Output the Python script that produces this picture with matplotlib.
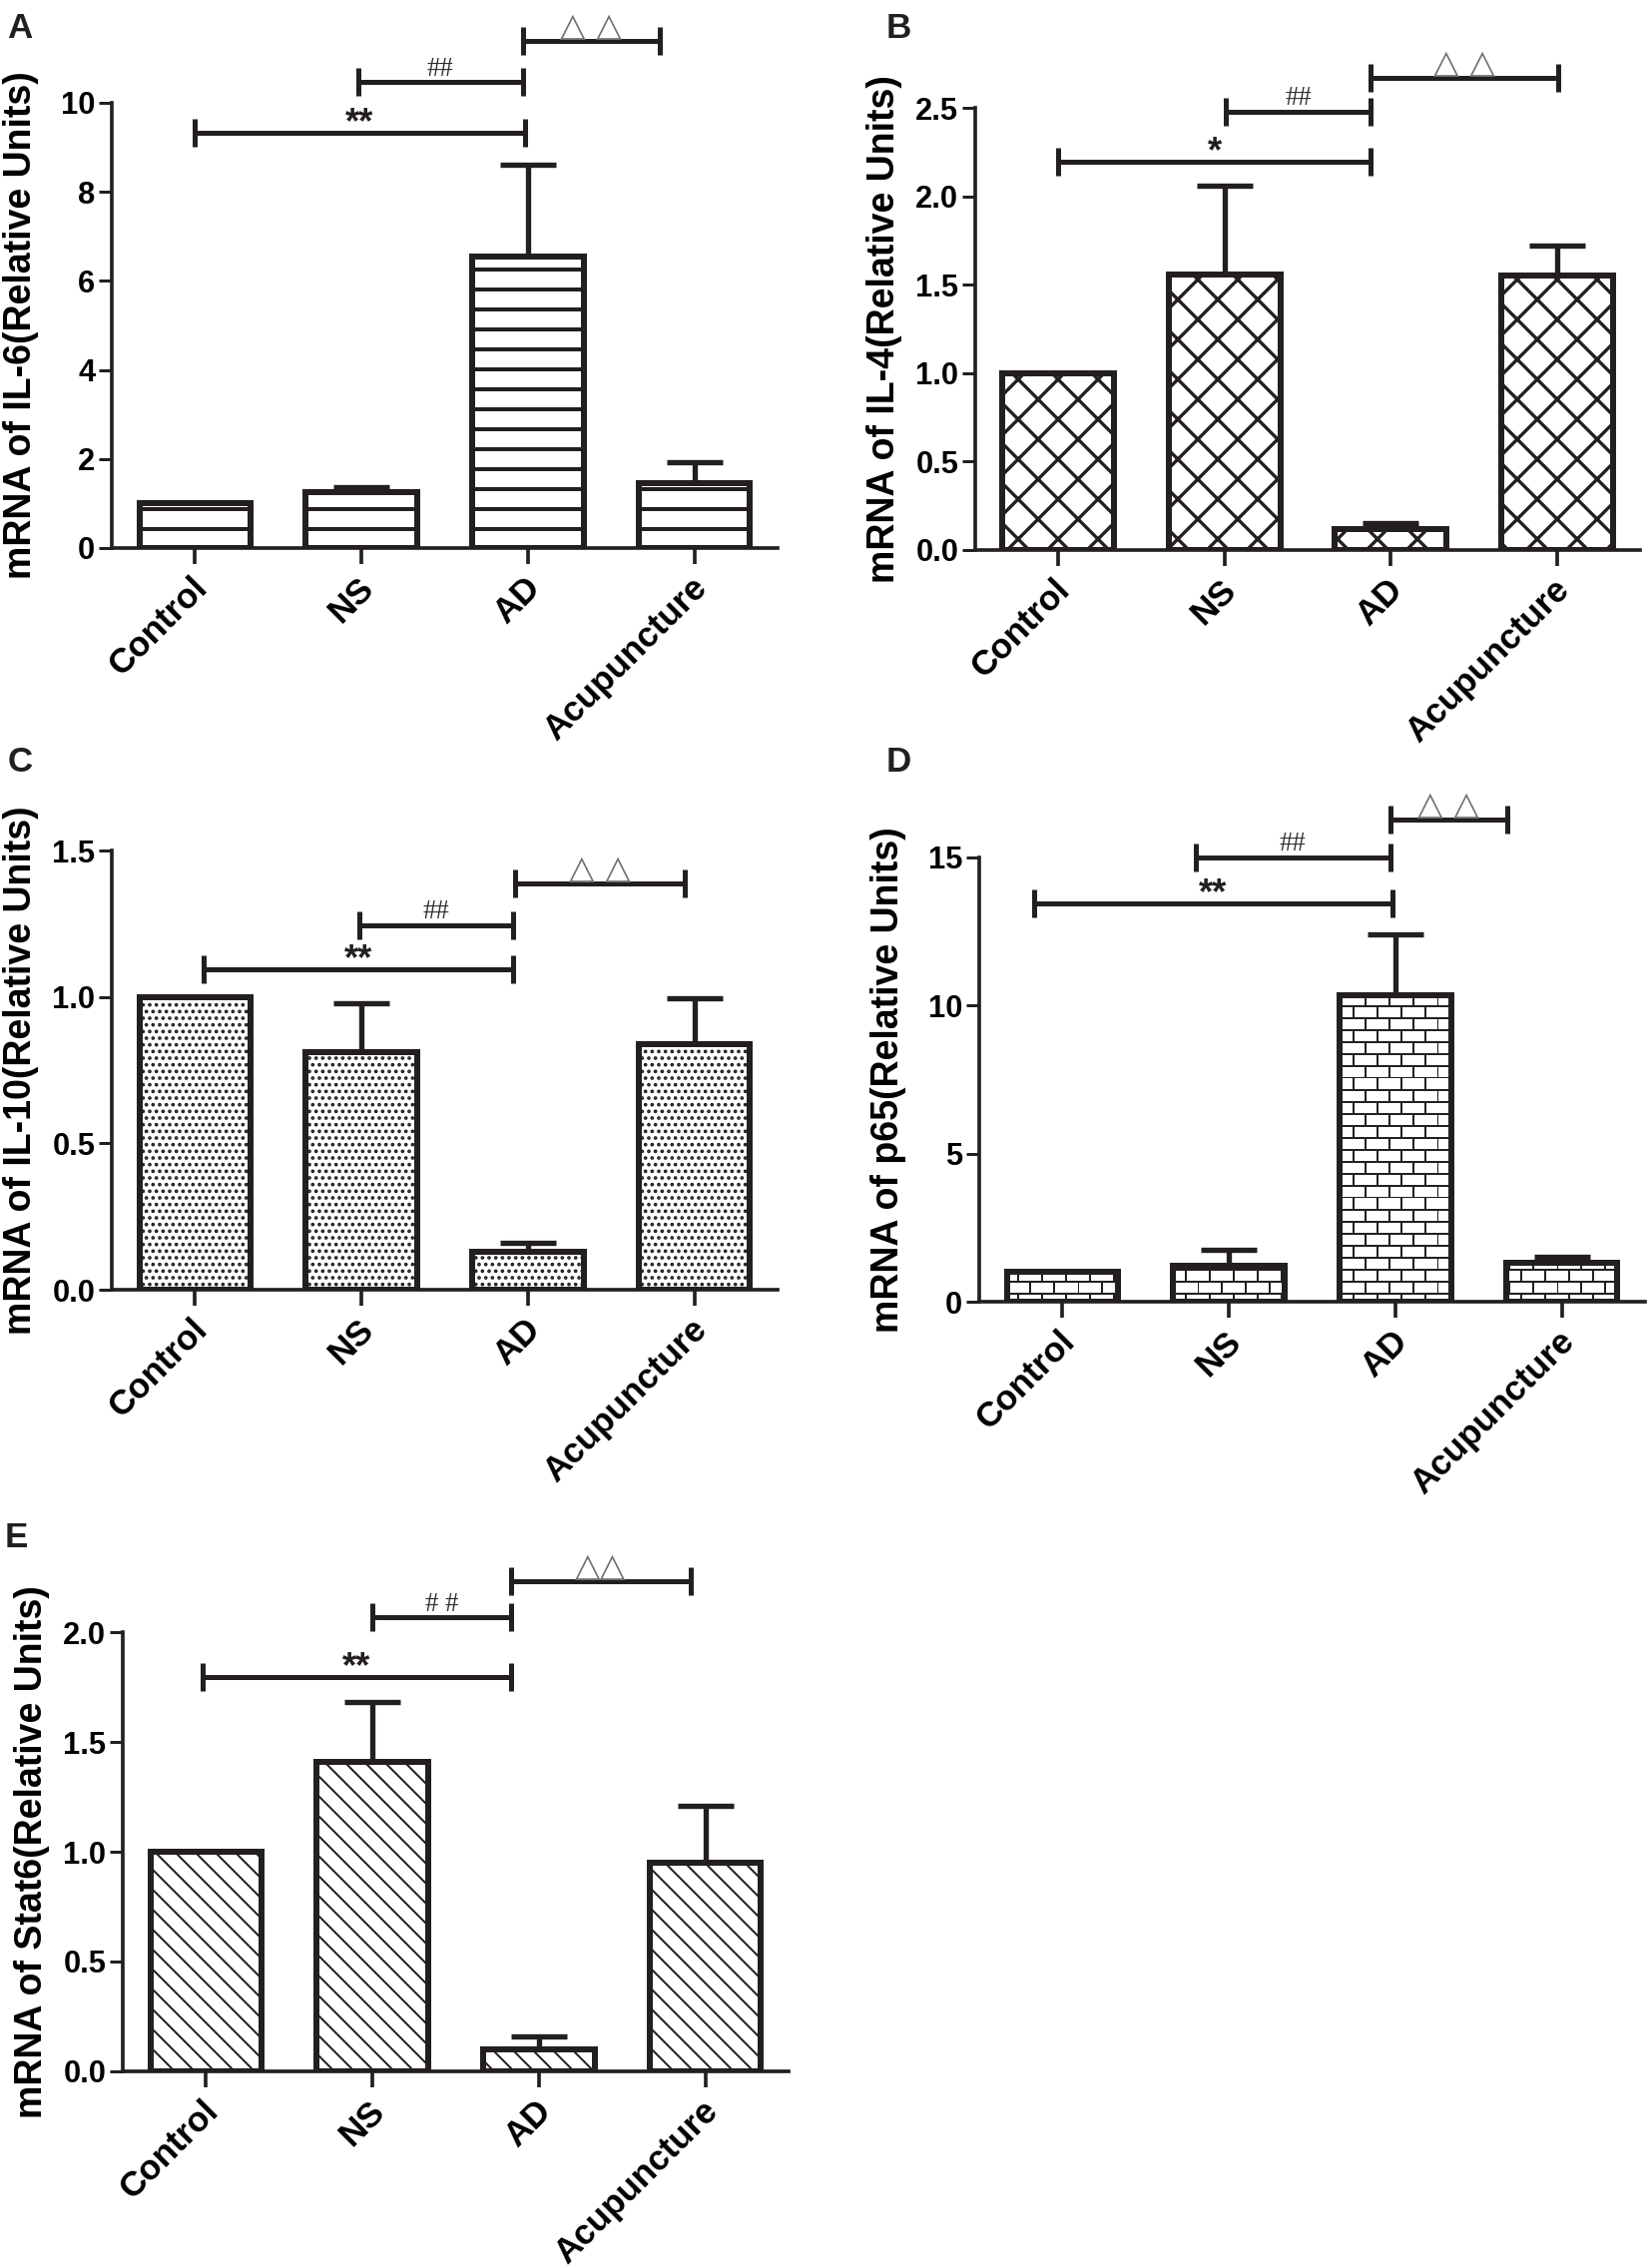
import warnings
import numpy as np
import matplotlib
matplotlib.use('Agg')
import matplotlib.pyplot as plt
from matplotlib import hatch as mhatch
from matplotlib.path import Path
from matplotlib.ticker import FormatStrFormatter
from matplotlib.transforms import ScaledTranslation

warnings.filterwarnings('ignore')

groups = ['Control', 'NS', 'AD', 'Acupuncture']

il6_mean = [1.0, 1.25, 6.55, 1.46]
il6_err = [0.0, 0.11, 2.05, 0.47]
il4_mean = [1.0, 1.56, 0.12, 1.55]
il4_err = [0.0, 0.50, 0.03, 0.17]
il10_mean = [1.0, 0.81, 0.13, 0.84]
il10_err = [0.0, 0.17, 0.03, 0.155]
p65_mean = [1.0, 1.2, 10.36, 1.32]
p65_err = [0.0, 0.55, 2.06, 0.19]
stat6_mean = [1.0, 1.41, 0.10, 0.95]
stat6_err = [0.0, 0.27, 0.06, 0.26]

# significance brackets: (from, to, height, mark)
il6_sig = [(0.0, 1.98, 9.33, '**'), (0.98, 1.97, 10.46, '##'), (1.97, 2.79, 11.38, '△ △')]
il4_sig = [(0.0, 1.88, 2.196, '*'), (1.01, 1.88, 2.48, '##'), (1.88, 3.01, 2.668, '△ △')]
il10_sig = [(0.05, 1.91, 1.094, '**'), (0.985, 1.91, 1.245, '##'), (1.92, 2.94, 1.389, '△ △')]
p65_sig = [(-0.17, 1.98, 13.45, '**'), (0.8, 1.97, 15.0, '##'), (1.97, 2.67, 16.27, '△ △')]
stat6_sig = [(-0.02, 1.83, 1.794, '**'), (1.0, 1.83, 2.067, '# #'), (1.83, 2.91, 2.23, '△△')]

INK = '#231f20'
W, H, DPI = 1655, 2271, 120

plt.rcParams['font.family'] = ['Liberation Sans', 'DejaVu Sans']
plt.rcParams['hatch.color'] = INK


# brick pattern used for the p65 panel ('b')
class BrickHatch(mhatch.HatchPatternBase):
    def __init__(self, hatch, density):
        n = hatch.count('b')
        self.num_rows = 10 * n
        self.num_cols = 5 * n
        self.num_vertices = self.num_rows * (1 + self.num_cols) * 2

    def set_vertices_and_codes(self, vertices, codes):
        segs = []
        for i in range(self.num_rows):
            y0 = i / self.num_rows
            y1 = (i + 1) / self.num_rows
            segs.append(((0.0, y0), (1.0, y0)))
            shift = 0.5 / self.num_cols if i % 2 else 0.0
            for j in range(self.num_cols):
                xv = j / self.num_cols + shift
                segs.append(((xv, y0), (xv, y1)))
        vertices[:] = np.array(segs).reshape(-1, 2)
        codes[0::2] = Path.MOVETO
        codes[1::2] = Path.LINETO


mhatch._hatch_types.append(BrickHatch)


def rect(l, r, t, b):
    return [l / W, 1 - b / H, (r - l) / W, (b - t) / H]


def draw_panel(fig, ax, mean, err, hatch, hatch_lw, ylim, yticks, fmt, ylabel, sig):
    x = np.arange(len(groups))
    ax.errorbar(x, mean, yerr=[np.zeros(len(err)), err], fmt='none', ecolor=INK,
                elinewidth=3.2, capsize=17, capthick=3.2, zorder=1)
    plt.rcParams['hatch.linewidth'] = hatch_lw
    bars = ax.bar(x, mean, width=0.67, color='white', edgecolor=INK,
                  linewidth=3.6, hatch=hatch, zorder=2)
    for b in bars:
        if hasattr(b, 'set_hatch_linewidth'):
            b.set_hatch_linewidth(hatch_lw)

    ax.set_xlim(-0.5, 3.5)
    ax.set_ylim(*ylim)
    ax.set_yticks(yticks)
    ax.yaxis.set_major_formatter(FormatStrFormatter(fmt))
    for s in ['top', 'right']:
        ax.spines[s].set_visible(False)
    for s in ['left', 'bottom']:
        ax.spines[s].set_linewidth(2.2)
        ax.spines[s].set_color(INK)
    ax.tick_params(axis='y', length=8, width=1.8, color=INK, pad=2)
    ax.tick_params(axis='x', length=9.6, width=2.2, color=INK, pad=7)
    ax.set_xticks(x)
    ax.set_xticklabels(groups, rotation=45, ha='right', va='center',
                       rotation_mode='anchor', fontsize=21, fontweight='bold')
    # nudge the slanted group names down and right
    shift = ScaledTranslation(7 / DPI, -7 / DPI, fig.dpi_scale_trans)
    for lab in ax.get_xticklabels():
        lab.set_transform(lab.get_transform() + shift)
    for lab in ax.get_yticklabels():
        lab.set_fontsize(18.5)
        lab.set_fontweight('bold')
    ax.set_ylabel(ylabel, fontsize=22.5, fontweight='bold')
    ax.yaxis.set_label_coords(-0.11, 0.5)

    for x1, x2, y, mark in sig:
        ax.plot([x1, x2], [y, y], color=INK, lw=3.0, clip_on=False, solid_capstyle='butt')
        ax.plot([x1, x2], [y, y], ls='none', marker='|', ms=17, mew=3.0,
                color=INK, clip_on=False)
        if mark.startswith('*'):
            kw = dict(fontsize=22, fontweight='bold', color=INK, family='Liberation Sans')
            dy = 0
        elif mark.startswith('#'):
            kw = dict(fontsize=16, color='#2b2b2b', family='Liberation Serif')
            dy = 4
        else:
            kw = dict(fontsize=20, color='#6e6e6e', family='DejaVu Sans')
            dy = 3
        ax.annotate(mark, xy=((x1 + x2) / 2, y), xytext=(0, dy),
                    textcoords='offset points', ha='center', va='baseline',
                    annotation_clip=False, **kw)


fig = plt.figure(figsize=(W / DPI, H / DPI), dpi=DPI)

panels = [
    ('A', (7, 12), rect(112, 779, 103, 549), il6_mean, il6_err, '-', 2.4,
     (0, 10), [0, 2, 4, 6, 8, 10], '%d', 'mRNA of IL-6(Relative Units)', il6_sig),
    ('B', (888, 12), rect(977, 1643, 108, 551), il4_mean, il4_err, 'x', 2.0,
     (0, 2.5), [0, 0.5, 1.0, 1.5, 2.0, 2.5], '%.1f', 'mRNA of IL-4(Relative Units)', il4_sig),
    ('C', (8, 747), rect(112, 779, 852, 1292), il10_mean, il10_err, '...', 1.4,
     (0, 1.5), [0, 0.5, 1.0, 1.5], '%.1f', 'mRNA of IL-10(Relative Units)', il10_sig),
    ('D', (888, 747), rect(981, 1648, 859, 1304), p65_mean, p65_err, 'b', 1.2,
     (0, 15), [0, 5, 10, 15], '%d', 'mRNA of p65(Relative Units)', p65_sig),
    ('E', (5, 1524), rect(123, 790, 1635, 2075), stat6_mean, stat6_err, '\\\\', 1.2,
     (0, 2.0), [0, 0.5, 1.0, 1.5, 2.0], '%.1f', 'mRNA of Stat6(Relative Units)', stat6_sig),
]

for letter, (lx, ly), r, mean, err, hatch, hlw, ylim, yticks, fmt, ylabel, sig in panels:
    ax = fig.add_axes(r)
    draw_panel(fig, ax, mean, err, hatch, hlw, ylim, yticks, fmt, ylabel, sig)
    fig.text(lx / W, 1 - ly / H, letter, fontsize=21, fontweight='bold',
             color=INK, ha='left', va='top')

fig.savefig('out.png', dpi=DPI, facecolor='white')
